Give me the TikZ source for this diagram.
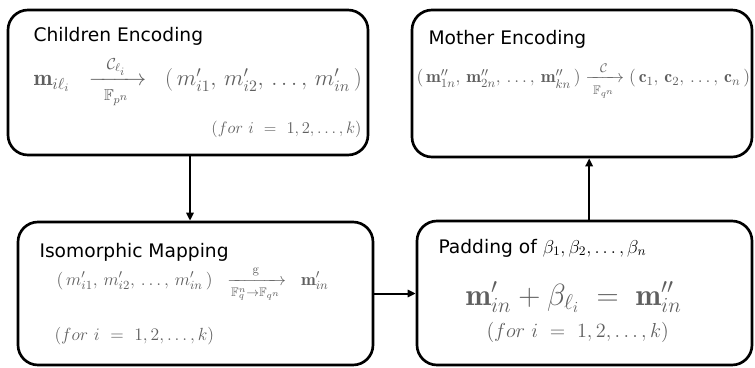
\RequirePackage{fix-cm}
\documentclass[tikz,border=0pt]{standalone}
\usepackage{amsmath,amssymb}
\usepackage{fontspec}
\setsansfont{DejaVu Sans}
\usetikzlibrary{arrows.meta}

\definecolor{mathgray}{HTML}{5F5F5F}
\tikzset{every picture/.style={line width=0.75pt}}
\tikzset{
  block/.style={draw, line width=2pt, rounded corners=15pt, inner sep=0pt},
  ttl/.style={font=\sffamily\fontsize{14}{16}\selectfont, inner sep=0.75pt},
  eqn/.style={text=mathgray, inner sep=0.75pt},
  link/.style={line width=1.5pt, -{Triangle[length=6pt,width=5.5pt]}}
}

\begin{document}
\begin{tikzpicture}[x=0.75pt,y=0.75pt,yscale=-1,xscale=1]
        \useasboundingbox (0,0) rectangle (755,367);
        % boxes
        \node [block, minimum width=270pt, minimum height=108.75pt] (child) at (188,82.5) {};
        \node [block, minimum width=255pt, minimum height=110.25pt] (mother) at (582,83.5) {};
        \node [block, minimum width=266.25pt, minimum height=107.25pt] (iso) at (195.5,293.5) {};
        \node [block, minimum width=251.25pt, minimum height=108pt] (pad) at (584.5,293) {};

        % titles
        \draw (32,42) node [anchor=base west][ttl] (childT) {Children Encoding};
        \draw (427,45) node [anchor=base west][ttl] (motherT) {Mother Encoding};
        \draw (38,257) node [anchor=base west][ttl] (isoT) {Isomorphic Mapping};
        \draw (437,253) node [anchor=base west][ttl] (padT) {Padding of $\beta_1, \beta_2, \ldots, \beta_n$};

        % equations
        \draw (32,86) node [anchor=base west][eqn, font=\fontsize{17}{19}\selectfont] (childE) {$\mathbf{m}_{i\ell_i} \;\; \xrightarrow[\mathbb{F}_{p^n}]{\;\;\;\mathcal{C}_{\ell_i}\;\;\;}\;\; (\,m'_{i1},\, m'_{i2},\, \ldots,\, m'_{in}\,)$};
        \draw (363,133) node [anchor=base east][eqn, font=\fontsize{12.4}{14}\selectfont] (childF) {$(for\ i\ =\ 1,2,\ldots,k)$};
        \draw (415,83) node [anchor=base west][eqn, font=\fontsize{13.3}{15}\selectfont] (motherE) {$(\,\mathbf{m}''_{1n},\, \mathbf{m}''_{2n},\, \ldots,\, \mathbf{m}''_{kn}\,) \xrightarrow[\mathbb{F}_{q^n}]{\;\;\;\mathcal{C}\;\;\;} (\,\mathbf{c}_1,\, \mathbf{c}_2,\, \ldots,\, \mathbf{c}_n\,)$};
        \draw (55,285) node [anchor=base west][eqn, font=\fontsize{13.3}{15}\selectfont] (isoE) {$(\,m'_{i1},\, m'_{i2},\, \ldots,\, m'_{in}\,) \;\; \xrightarrow[\mathbb{F}_q^n \to \mathbb{F}_{q^n}]{\mathrm{g}} \;\; \mathbf{m}'_{in}$};
        \draw (53,340) node [anchor=base west][eqn, font=\fontsize{13.2}{15}\selectfont] (isoF) {$(for\ i\ =\ 1,2,\ldots,k)$};
        \draw (464,305) node [anchor=base west][eqn, font=\fontsize{23}{26}\selectfont] (padE) {$\mathbf{m}'_{in} + \beta_{\ell_i} \;=\; \mathbf{m}''_{in}$};
        \draw (485,337) node [anchor=base west][eqn, font=\fontsize{15.2}{17}\selectfont] (padF) {$(for\ i\ =\ 1,2,\ldots,k)$};

        % connectors
        \draw [link] ([xshift=1.5pt]child.south) -- ([xshift=1.5pt]child.south |- iso.north);
        \draw [link] (iso.east) -- (iso.east -| pad.west);
        \draw [link] ([xshift=3.5pt]pad.north) -- ([xshift=3.5pt]pad.north |- mother.south);
\end{tikzpicture}
\end{document}
